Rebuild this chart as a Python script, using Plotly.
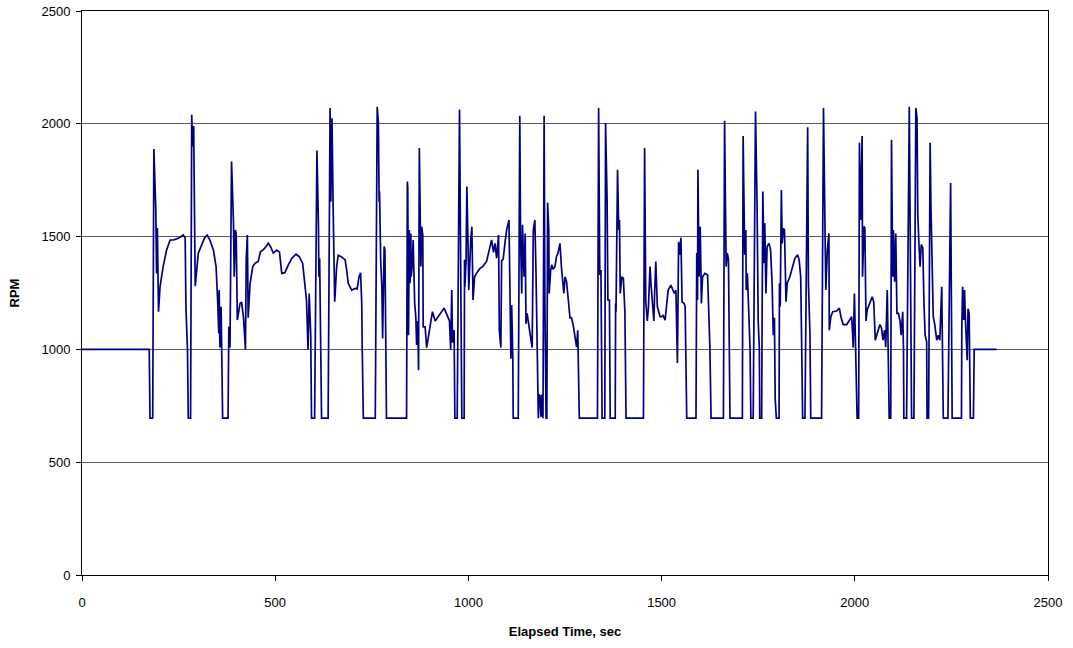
import plotly.graph_objects as go

elapsed_time_sec = [
    0, 174, 176, 183, 186, 191, 193, 195, 198, 202, 210, 219, 228, 236, 245, 254, 262, 267, 269, 273, 275, 281,
    284, 286, 289, 291, 293, 301, 310, 318, 324, 331, 340, 347, 351, 354, 355, 357, 360, 364, 378,
    380, 383, 387, 392, 394, 397, 399, 402, 406, 409, 413, 418, 423, 425, 428, 430, 435, 442, 448, 456,
    462, 469, 476, 482, 488, 495, 504, 511, 517, 525, 534, 543, 554, 562, 571, 577, 581, 585, 588, 592,
    594, 602, 608, 612, 613, 615, 620, 637, 642, 644, 647, 650, 654, 659, 663, 672, 681, 685, 689, 698,
    707, 712, 717, 721, 724, 725, 728, 759, 764, 767, 769, 770, 773, 776, 778, 782, 784, 788, 840,
    842, 843, 845, 847, 849, 851, 852, 855, 857, 861, 864, 866, 869, 871, 873, 875, 877, 879, 882, 883,
    888, 892, 896, 901, 907, 914, 922, 931, 937, 944, 951, 954, 957, 959, 963, 965, 971, 977, 980, 983,
    989, 990, 991, 994, 996, 999, 1001, 1006, 1009, 1012, 1016, 1021, 1030, 1037, 1043, 1047, 1054, 1060,
    1065, 1069, 1073, 1078, 1080, 1084, 1086, 1090, 1095, 1099, 1105, 1108, 1110, 1112, 1115, 1116, 1129,
    1133, 1135, 1138, 1140, 1144, 1147, 1149, 1152, 1157, 1161, 1165, 1168, 1172, 1175, 1178, 1181, 1183,
    1185, 1188, 1190, 1193, 1196, 1198, 1201, 1203, 1205, 1208, 1209, 1213, 1216, 1219, 1224, 1228, 1232,
    1237, 1241, 1247, 1250, 1254, 1258, 1263, 1267, 1271, 1276, 1280, 1283, 1285, 1287, 1334, 1337, 1340,
    1343, 1346, 1353, 1355, 1359, 1361, 1365, 1367, 1380, 1381, 1382, 1386, 1389, 1391, 1393, 1397, 1401,
    1405, 1408, 1453, 1456, 1459, 1463, 1466, 1470, 1473, 1477, 1480, 1482, 1485, 1489, 1492, 1496, 1500,
    1504, 1509, 1513, 1517, 1524, 1529, 1533, 1537, 1541, 1544, 1547, 1550, 1553, 1558, 1561, 1565, 1589,
    1591, 1593, 1594, 1597, 1600, 1603, 1606, 1612, 1619, 1622, 1625, 1628, 1660, 1663, 1667, 1670, 1673,
    1677, 1709, 1711, 1715, 1718, 1719, 1722, 1726, 1729, 1731, 1737, 1743, 1747, 1750, 1753, 1754, 1759,
    1760, 1762, 1765, 1767, 1770, 1773, 1778, 1782, 1786, 1789, 1792, 1794, 1797, 1804, 1805, 1807, 1810,
    1812, 1815, 1818, 1822, 1825, 1832, 1839, 1845, 1852, 1856, 1860, 1861, 1863, 1865, 1871, 1878, 1880,
    1884, 1886, 1914, 1917, 1919, 1922, 1925, 1929, 1933, 1934, 1938, 1943, 1953, 1960, 1964, 1970, 1979,
    1992, 1996, 1999, 2002, 2006, 2010, 2012, 2015, 2017, 2019, 2020, 2024, 2026, 2029, 2032, 2039, 2045,
    2049, 2053, 2058, 2065, 2069, 2073, 2077, 2080, 2084, 2087, 2089, 2093, 2095, 2098, 2100, 2103, 2106,
    2109, 2113, 2117, 2120, 2124, 2126, 2127, 2134, 2141, 2144, 2147, 2153, 2158, 2161, 2163, 2166, 2169,
    2172, 2176, 2179, 2182, 2186, 2187, 2191, 2195, 2197, 2200, 2203, 2207, 2212, 2216, 2220, 2225, 2227,
    2229, 2241, 2248, 2252, 2276, 2277, 2279, 2282, 2284, 2287, 2291, 2293, 2296, 2299, 2307, 2309, 2367,
]

rpm = [
    1000, 1000, 695, 695, 1888, 1619, 1337, 1538, 1167, 1278, 1367, 1441, 1485, 1485, 1490, 1497, 1507, 1495, 1183, 1000, 695, 695,
    2040, 1900, 1990, 1620, 1280, 1427, 1465, 1497, 1507, 1485, 1441, 1367, 1219, 1071, 1263, 1008, 1189, 695, 695,
    1100, 1008, 1833, 1563, 1322, 1529, 1515, 1130, 1167, 1204, 1210, 1140, 1000, 1400, 1507, 1140, 1293, 1367, 1382, 1390,
    1434, 1441, 1455, 1470, 1455, 1427, 1440, 1432, 1337, 1340, 1375, 1404, 1422, 1412, 1382, 1278, 1219, 1000, 1248, 1063,
    695, 695, 1882, 1544, 1322, 1404, 695, 695, 2070, 1655, 2025, 1625, 1211, 1367, 1417, 1410, 1397, 1352, 1293, 1263,
    1270, 1268, 1322, 1340, 1204, 1034, 695, 695, 2075, 2003, 1655, 1700, 1393, 1278, 1048, 1456, 1440, 695, 695,
    1744, 1720, 1063, 1529, 1293, 1514, 1322, 1380, 1485, 1204, 1140, 1020, 1126, 908, 1893, 1670, 1367, 1544, 1507, 1100,
    1100, 1008, 1050, 1100, 1167, 1126, 1145, 1167, 1183, 1155, 1126, 1000, 1263, 1030, 1085, 695, 695, 2063, 1470, 695,
    695, 1397, 1278, 1397, 1722, 1470, 1263, 1485, 1544, 1219, 1322, 1337, 1359, 1367, 1382, 1390, 1441, 1485,
    1430, 1470, 1404, 1507, 1085, 1008, 1393, 1400, 1478, 1529, 1574, 1278, 959, 1197, 952, 695, 695,
    2036, 1500, 1248, 1552, 1322, 1514, 1114, 1160, 1100, 1055, 1008, 1529, 1574, 1337, 920, 695, 800,
    795, 700, 800, 695, 2036, 1200, 695, 695, 1650, 1530, 1248, 1352, 1375, 1355, 1367, 1412, 1427,
    1470, 1360, 1248, 1322, 1300, 1219, 1140, 1140, 1110, 1055, 1010, 1085, 940, 695, 695, 2070, 1330,
    1352, 695, 695, 2003, 1655, 1219, 1219, 695, 695, 1204, 1167, 1796, 1529, 1574, 1248, 1322, 1315,
    1167, 695, 695, 1893, 1211, 1126, 1190, 1367, 1280, 1190, 1126, 1250, 1390, 1190, 1175, 1145, 1145,
    1150, 1130, 1204, 1263, 1285, 1263, 1248, 1263, 940, 1477, 1420, 1495, 1211, 1204, 1190, 695, 695,
    1427, 1219, 1796, 1322, 1544, 1204, 1322, 1337, 1330, 1160, 1008, 695, 695, 2013, 1367, 1427, 1400,
    695, 695, 1946, 1420, 1529, 1263, 1337, 1140, 1000, 695, 695, 2055, 1655, 1126, 1000, 695, 695,
    1085, 1700, 1382, 1560, 1248, 1456, 1470, 1441, 1293, 1063, 1140, 780, 695, 695, 1293, 1190, 1707,
    1470, 1537, 1530, 1211, 1293, 1322, 1367, 1404, 1420, 1397, 1322, 1085, 960, 695, 695, 1985, 1293,
    1063, 695, 695, 1529, 2070, 1655, 1263, 1441, 1514, 1085, 1145, 1167, 1170, 1183, 1145, 1110, 1110,
    1145, 1008, 1248, 1000, 695, 695, 1916, 1574, 1930, 1946, 1322, 1545, 1537, 1126, 1175, 1204, 1233,
    1211, 1041, 1070, 1110, 1095, 1041, 1085, 1010, 1263, 1000, 695, 695, 1929, 1322, 1529, 1300, 1514,
    1160, 1160, 1126, 1063, 1167, 1000, 695, 695, 2075, 1367, 695, 695, 2070, 2025, 1600, 1465, 1367,
    1465, 1450, 1204, 1063, 1034, 695, 695, 1916, 1640, 1322, 1145, 1110, 1041, 1063, 1041, 1278, 1070,
    695, 695, 1737, 695, 695, 1100, 1278, 1130, 1263, 1100, 952, 1180, 1160, 695, 695, 1000, 1000,
]

x_ticks = [0, 500, 1000, 1500, 2000, 2500]
y_ticks = [0, 500, 1000, 1500, 2000, 2500]

fig = go.Figure()
fig.add_trace(go.Scatter(
    x=elapsed_time_sec, y=rpm, mode="lines",
    line=dict(color="#000080", width=1.7),
    showlegend=False, hoverinfo="skip",
))

axis_font = dict(family="Liberation Sans, Arial, sans-serif", size=13, color="black")
fig.update_layout(
    width=1073, height=648,
    margin=dict(l=82, r=25, t=11, b=73, autoexpand=False),
    paper_bgcolor="white", plot_bgcolor="white",
    font=axis_font,
    xaxis=dict(
        range=[0, 2500], tickvals=x_ticks, ticktext=[str(v) for v in x_ticks],
        showgrid=False, zeroline=False, automargin=False,
        showline=True, linecolor="black", linewidth=1, mirror=True,
        ticks="outside", ticklen=5, tickcolor="black", ticklabelstandoff=10,
        title=dict(text="<b>Elapsed Time, sec</b>", font=dict(size=13), standoff=18),
    ),
    yaxis=dict(
        range=[0, 2500], tickvals=y_ticks, ticktext=[str(v) for v in y_ticks],
        showgrid=True, gridcolor="#5a5a5a", gridwidth=1, zeroline=False, automargin=False,
        showline=True, linecolor="black", linewidth=1, mirror=True,
        ticks="outside", ticklen=5, tickcolor="black", ticklabelstandoff=3,
        title=dict(text="<b>RPM</b>", font=dict(size=13), standoff=18),
    ),
)

fig.write_html("out.html")
